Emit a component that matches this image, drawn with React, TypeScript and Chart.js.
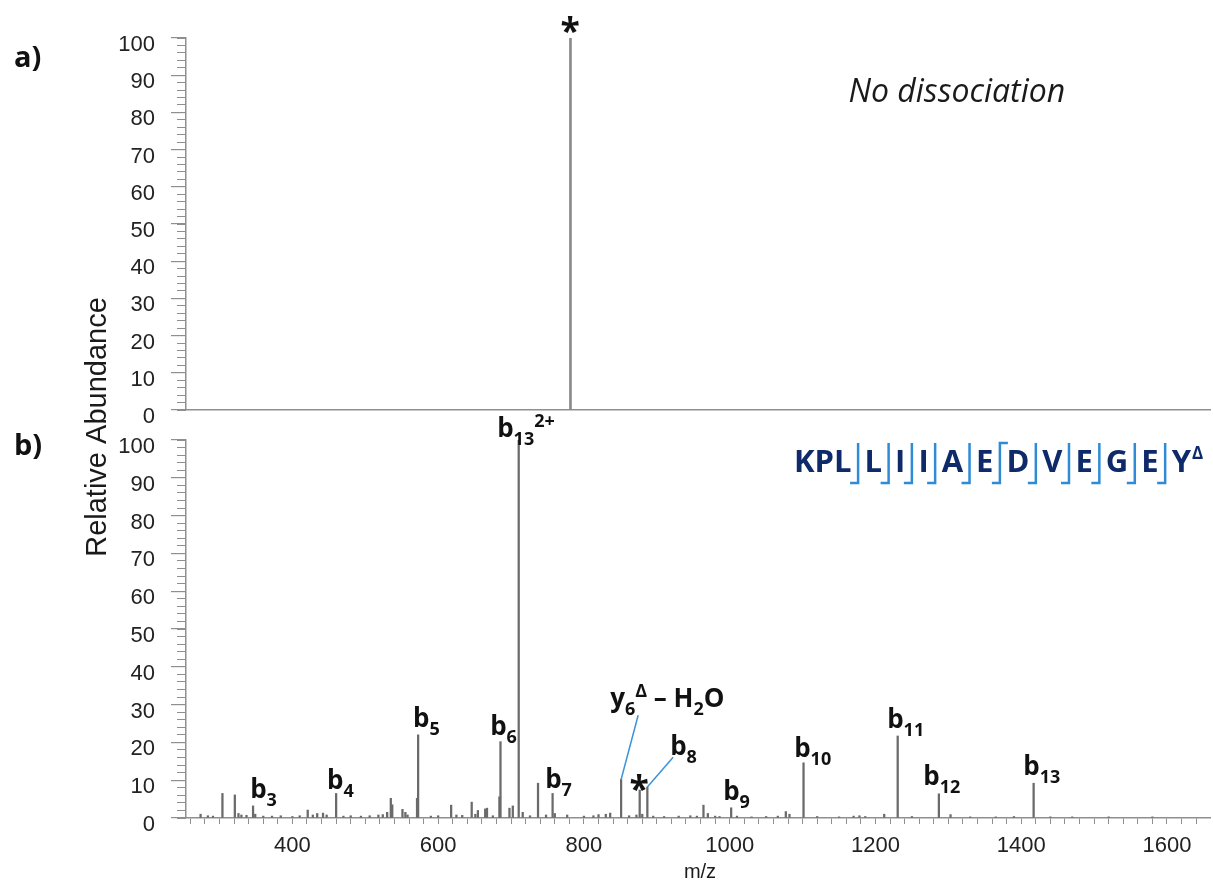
import React, { useEffect, useRef } from 'react';
import { Chart, registerables } from 'chart.js';
Chart.register(...registerables);

const W = 1213;
const H = 884;

// ---- axis definitions ----
const X_MIN = 254;
const X_MAX = 1659;
const xTickLabels = [400, 600, 800, 1000, 1200, 1400, 1600];
const xMinorStep = 20;
const yTickLabels = [0, 10, 20, 30, 40, 50, 60, 70, 80, 90, 100];
const yMinorStep = 2;

// ---- panel a) : no dissociation ----
const precursorMz = [781.5];
const precursorAb = [100];

// ---- panel b) : fragment spectrum ----
const ms2Mz = [
  274, 284, 291, 304, 321, 326, 330, 337, 346, 349, 360, 372, 384, 400, 410, 421, 428, 434, 442, 447,
  460, 470, 480, 494, 506, 518, 524, 530, 535, 537, 551, 555, 558, 571, 572.5, 590, 600, 617.8, 625, 633,
  646, 651, 654.5, 664.5, 667, 675, 684, 685.5, 697.8, 702.4, 710.5, 716, 726, 737, 748, 757, 760, 777,
  800, 813, 820, 830, 836, 851, 862, 872, 876.5, 880, 887, 895, 910, 930, 946, 955, 964, 970, 980, 986,
  1002, 1010, 1030, 1050, 1066, 1077, 1082, 1101.3, 1120, 1150, 1170, 1178, 1186, 1212, 1230.5, 1250,
  1287, 1303, 1330, 1365, 1390, 1417, 1440, 1470, 1520, 1580,
];
const ms2Ab = [
  1.0, 0.6, 0.5, 6.5, 6.1, 1.2, 0.8, 0.7, 3.2, 1.0, 0.5, 0.5, 0.6, 0.4, 0.6, 2.1, 0.8, 1.2, 1.3, 0.8,
  6.5, 0.5, 0.6, 0.5, 0.6, 0.8, 0.9, 1.5, 5.2, 3.5, 2.3, 1.5, 0.8, 5.2, 22, 0.5, 0.6, 3.4, 0.8, 0.7,
  4.2, 1.0, 2.0, 2.4, 2.6, 0.6, 5.6, 20.2, 2.6, 3.2, 100, 1.5, 0.6, 9.2, 0.8, 6.5, 1.2, 0.8,
  0.5, 0.6, 0.9, 1.0, 1.3, 10.2, 0.6, 0.8, 7.4, 1.0, 8.2, 0.5, 0.4, 0.5, 0.6, 0.5, 3.4, 1.2, 0.5, 0.4,
  2.7, 0.5, 0.3, 0.4, 0.5, 1.7, 1.0, 14.6, 0.4, 0.3, 0.5, 0.6, 0.4, 1.0, 21.7, 0.4,
  6.4, 0.9, 0.3, 0.3, 0.4, 9.2, 0.3, 0.3, 0.3, 0.3,
];

// ion labels: parts [text, kind], anchor = left edge / baseline in data units
type Part = [string, 'n' | 'sub' | 'sup'];
const ionLabels: { parts: Part[]; mz: number; ab: number }[] = [
  { parts: [['b', 'n'], ['13', 'sub'], ['2+', 'sup']], mz: 680.9, ab: 100.8 },
  { parts: [['b', 'n'], ['3', 'sub']], mz: 342, ab: 5.3 },
  { parts: [['b', 'n'], ['4', 'sub']], mz: 447.6, ab: 7.7 },
  { parts: [['b', 'n'], ['5', 'sub']], mz: 565.6, ab: 24.1 },
  { parts: [['b', 'n'], ['6', 'sub']], mz: 671.3, ab: 22.0 },
  { parts: [['b', 'n'], ['7', 'sub']], mz: 746.8, ab: 7.9 },
  { parts: [['b', 'n'], ['8', 'sub']], mz: 918.3, ab: 16.7 },
  { parts: [['b', 'n'], ['9', 'sub']], mz: 991, ab: 4.8 },
  { parts: [['b', 'n'], ['10', 'sub']], mz: 1088.4, ab: 16.1 },
  { parts: [['b', 'n'], ['11', 'sub']], mz: 1216, ab: 23.8 },
  { parts: [['b', 'n'], ['12', 'sub']], mz: 1265.5, ab: 8.7 },
  { parts: [['b', 'n'], ['13', 'sub']], mz: 1402.7, ab: 11.4 },
  { parts: [['y', 'n'], ['6', 'sub'], ['Δ', 'sup'], [' – H', 'n'], ['2', 'sub'], ['O', 'n']], mz: 836, ab: 29.4 },
];
const leaderFrom = [[851, 10.2], [887, 8.2]];
const leaderTo = [[874.4, 27.2], [922.4, 16.1]];
const starB = [875.8, 9.3];
const starA = [781.2, 103.5];
const noteA = { text: 'No dissociation', mz: 1162.9, ab: 82.8 };

// peptide
const peptide = ['K', 'P', 'L', 'L', 'I', 'I', 'A', 'E', 'D', 'V', 'E', 'G', 'E', 'Y'];
const bIonsSeen = [3, 4, 5, 6, 7, 8, 9, 10, 11, 12, 13];
const yIonsSeen = [6];

const AXIS = '#8f8f8f';
const LABEL_FONT = '"Open Sans", "DejaVu Sans", sans-serif';
const ARIAL = '"Liberation Sans", Arial, sans-serif';

function yScales() {
  return {
    y: {
      type: 'linear', position: 'left', min: 0, max: 100, weight: 1,
      afterBuildTicks: (s: any) => { s.ticks = yTickLabels.map((v) => ({ value: v })); },
      afterFit: (s: any) => { s.width = 186; },
      grid: { drawOnChartArea: false, drawTicks: true, tickLength: 15, color: AXIS, lineWidth: 1.2 },
      border: { display: true, color: AXIS, width: 1.5 },
      ticks: { font: { family: ARIAL, size: 22 }, color: '#222', padding: 16, labelOffset: 7 },
    },
    yMinor: {
      type: 'linear', position: 'left', min: 0, max: 100, weight: 0,
      afterBuildTicks: (s: any) => {
        const t: any[] = [];
        for (let v = 0; v <= 100; v += yMinorStep) t.push({ value: v });
        s.ticks = t;
      },
      afterFit: (s: any) => { s.width = 0; },
      grid: { drawOnChartArea: false, drawTicks: true, tickLength: 9, color: AXIS, lineWidth: 1 },
      border: { display: false },
      ticks: { display: false },
    },
  };
}

function drawParts(ctx: CanvasRenderingContext2D, x: number, y: number, parts: Part[], color: string) {
  let cx = x;
  ctx.fillStyle = color;
  ctx.textAlign = 'left';
  ctx.textBaseline = 'alphabetic';
  for (const [t, kind] of parts) {
    const fs = kind === 'n' ? 26 : 18;
    ctx.font = `bold ${fs}px ${LABEL_FONT}`;
    const dy = kind === 'sub' ? 8 : kind === 'sup' ? -10 : 0;
    ctx.fillText(t, cx, y + dy);
    cx += ctx.measureText(t).width;
  }
}

function drawStar(ctx: CanvasRenderingContext2D, cx: number, cy: number, glyphH: number) {
  ctx.font = `bold 100px ${LABEL_FONT}`;
  const m0 = ctx.measureText('*');
  const h0 = m0.actualBoundingBoxAscent + m0.actualBoundingBoxDescent;
  const size = (100 * glyphH) / (h0 || 40);
  ctx.font = `bold ${size}px ${LABEL_FONT}`;
  const m = ctx.measureText('*');
  ctx.fillStyle = '#111';
  ctx.textAlign = 'center';
  ctx.textBaseline = 'alphabetic';
  ctx.fillText('*', cx, cy + (m.actualBoundingBoxAscent - m.actualBoundingBoxDescent) / 2);
}

function drawPeptide(ctx: CanvasRenderingContext2D) {
  const n = peptide.length;
  const cuts = new Set<number>(bIonsSeen);
  const yCuts = new Set<number>(yIonsSeen.map((k) => n - k));
  yCuts.forEach((c) => cuts.add(c));
  const GAP = 13;
  const base = 472;
  ctx.font = `bold 31px ${LABEL_FONT}`;
  let total = 0;
  peptide.forEach((r, i) => {
    total += ctx.measureText(r).width;
    if (i < n - 1 && cuts.has(i + 1)) total += GAP;
  });
  let cx = 1191 - total;
  ctx.textAlign = 'left';
  ctx.textBaseline = 'alphabetic';
  peptide.forEach((r, i) => {
    ctx.font = `bold 31px ${LABEL_FONT}`;
    ctx.fillStyle = '#0f2a6b';
    ctx.fillText(r, cx, base);
    cx += ctx.measureText(r).width;
    if (i < n - 1 && cuts.has(i + 1)) {
      const bx = cx + GAP / 2;
      ctx.strokeStyle = '#2f8bd6';
      ctx.lineWidth = 2.5;
      ctx.beginPath();
      if (yCuts.has(i + 1)) {
        ctx.moveTo(bx + 8, 443);
        ctx.lineTo(bx, 443);
      } else {
        ctx.moveTo(bx, 443);
      }
      ctx.lineTo(bx, 483);
      ctx.lineTo(bx - 8, 483);
      ctx.stroke();
      cx += GAP;
    }
  });
  ctx.font = `bold 17px ${LABEL_FONT}`;
  ctx.fillStyle = '#0f2a6b';
  ctx.fillText('Δ', cx + 1, base - 13);
}

const plotA = {
  id: 'plotA',
  afterDraw(chart: any) {
    const { ctx, scales } = chart;
    const x = scales.x;
    const y = scales.y;
    ctx.save();
    drawStar(ctx, x.getPixelForValue(starA[0]), y.getPixelForValue(starA[1]), 17);
    ctx.font = `italic 32px ${LABEL_FONT}`;
    ctx.fillStyle = '#1a1a1a';
    ctx.textAlign = 'left';
    ctx.textBaseline = 'alphabetic';
    ctx.fillText(noteA.text, x.getPixelForValue(noteA.mz), y.getPixelForValue(noteA.ab));
    ctx.font = `bold 29px ${LABEL_FONT}`;
    ctx.fillStyle = '#111';
    ctx.fillText('a)', 14, 67);
    ctx.restore();
  },
};

const plotB = {
  id: 'plotB',
  afterDraw(chart: any) {
    const { ctx, scales } = chart;
    const x = scales.x;
    const y = scales.y;
    ctx.save();
    ctx.strokeStyle = '#3b93dc';
    ctx.lineWidth = 1.5;
    leaderFrom.forEach((f, i) => {
      const t = leaderTo[i];
      ctx.beginPath();
      ctx.moveTo(x.getPixelForValue(f[0]), y.getPixelForValue(f[1]));
      ctx.lineTo(x.getPixelForValue(t[0]), y.getPixelForValue(t[1]));
      ctx.stroke();
    });
    ionLabels.forEach((l) => drawParts(ctx, x.getPixelForValue(l.mz), y.getPixelForValue(l.ab), l.parts, '#111'));
    drawStar(ctx, x.getPixelForValue(starB[0]), y.getPixelForValue(starB[1]), 17);
    drawPeptide(ctx);
    ctx.font = `bold 29px ${LABEL_FONT}`;
    ctx.fillStyle = '#111';
    ctx.textAlign = 'left';
    ctx.textBaseline = 'alphabetic';
    ctx.fillText('b)', 14, 455);
    ctx.fillStyle = '#1a1a1a';
    ctx.font = `20px ${ARIAL}`;
    ctx.textAlign = 'center';
    ctx.textBaseline = 'middle';
    ctx.fillText('m/z', 700, 872);
    ctx.translate(106, 427);
    ctx.rotate(-Math.PI / 2);
    ctx.font = `29px ${ARIAL}`;
    ctx.textBaseline = 'alphabetic';
    ctx.fillText('Relative Abundance', 0, 0);
    ctx.restore();
  },
};

function makeConfig(top: boolean): any {
  const mz = top ? precursorMz : ms2Mz;
  const ab = top ? precursorAb : ms2Ab;
  const xAxis: any = {
    type: 'linear', position: 'bottom', min: X_MIN, max: X_MAX, offset: false,
    afterBuildTicks: (s: any) => {
      const t: any[] = [];
      for (let v = Math.ceil(X_MIN / xMinorStep) * xMinorStep; v <= X_MAX; v += xMinorStep) t.push({ value: v });
      s.ticks = t;
    },
    afterFit: (s: any) => { s.height = top ? 15 : 60; },
    grid: top
      ? { display: false }
      : { display: true, offset: false, drawOnChartArea: false, drawTicks: true, tickLength: 6, color: AXIS, lineWidth: 1 },
    border: { display: true, color: AXIS, width: 1.5 },
    ticks: top
      ? { display: false }
      : {
          autoSkip: false, maxRotation: 0, minRotation: 0, padding: 9,
          font: { family: ARIAL, size: 22 }, color: '#222',
          callback: (v: number) => (xTickLabels.includes(v) ? String(v) : ''),
        },
  };
  return {
    type: 'bar',
    data: {
      datasets: [
        {
          data: mz.map((m, i) => ({ x: m, y: ab[i] })),
          backgroundColor: top ? '#8a8a8a' : '#6a6a6a',
          borderWidth: 0,
          barThickness: top ? 2 : 1.6,
          xAxisID: 'x',
          yAxisID: 'y',
        },
      ],
    },
    options: {
      responsive: false,
      animation: false,
      events: [],
      layout: {
        padding: top
          ? { left: 0, top: 38, right: 3, bottom: H - 425 }
          : { left: 0, top: 440, right: 3, bottom: 6 },
      },
      plugins: { legend: { display: false }, tooltip: { enabled: false } },
      scales: { x: xAxis, ...yScales() },
    },
    plugins: [top ? plotA : plotB],
  };
}

export default function App() {
  const refA = useRef<HTMLCanvasElement>(null);
  const refB = useRef<HTMLCanvasElement>(null);
  useEffect(() => {
    const a = new Chart(refA.current as HTMLCanvasElement, makeConfig(true));
    const b = new Chart(refB.current as HTMLCanvasElement, makeConfig(false));
    return () => {
      a.destroy();
      b.destroy();
    };
  }, []);
  const cs: React.CSSProperties = { position: 'absolute', left: 0, top: 0, width: W, height: H };
  return (
    <div style={{ position: 'fixed', left: 0, top: 0, width: W, height: H, background: '#fff' }}>
      <canvas ref={refA} width={W} height={H} style={cs} />
      <canvas ref={refB} width={W} height={H} style={cs} />
    </div>
  );
}
